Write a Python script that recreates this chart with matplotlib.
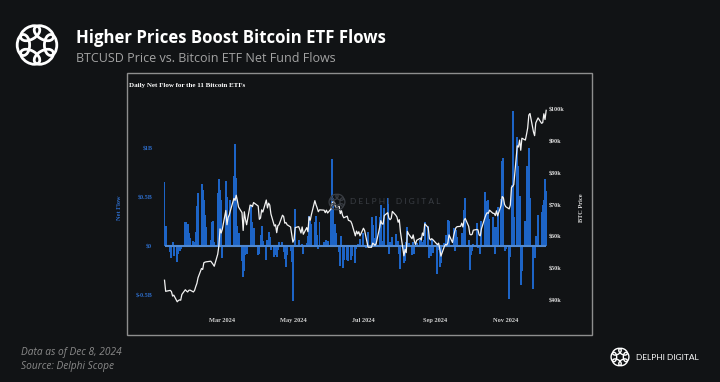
import numpy as np
import pandas as pd
import matplotlib
matplotlib.use("Agg")
import matplotlib.pyplot as plt
import matplotlib.dates as mdates
from matplotlib.patches import Rectangle, Ellipse

### Daten
# Handelstage 11. Jan - 6. Dez 2024 (US-Feiertage raus)
holidays = ["2024-01-15", "2024-02-19", "2024-03-29", "2024-05-27",
            "2024-06-19", "2024-07-04", "2024-09-02", "2024-11-28"]
dates = pd.bdate_range("2024-01-11", "2024-12-06").drop(pd.to_datetime(holidays))

# Daily net flow, alle 11 ETFs (US$m), eine Zeile pro Woche
net_flow = [
    655, 203,
    -60, -120, 40, -100,
    -160, -80, -50, -30, 15,
    250, 240, 225, 130, 80,
    55, 45, 145, 405, 540,
    630, 570, 470, 320, 190,
    60, 245, 255, 40,
    540, 680, 570, 470, -120,
    660, 500, 300, 230, 470,
    710, 1045, 690, 200, 135,
    -150, -320, -260, -95, -85,
    15, 420, 245, 180,
    -90, -85, 115, 200, 50,
    -140, 60, 140, 90, -40,
    -110, -90, -110, -40, 40,
    40, -60, -130, -210, -90,
    -50, -160, -565, 10, 380,
    60, 10, -15, 20, -85,
    30, 100, 305, 255, 220,
    240, 305, 110, -30, 250,
    45, 30, 60, 50,
    380, 887, 490, 220, 130,
    -65, -200, 100, -225, -140,
    -145, -150, -140, -105,
    -175, -30, 20, 12, 75,
    130, -15, -20, 145,
    295, 215, 80, 75, 310,
    300, 420, 55, 20, 385,
    485, -80, 45, 30, 90,
    125, 20, 50, -80, -235,
    -170, -150, 45, 195, 30,
    -90, 40, -80, 10, 35,
    60, 90, 40, 65, 250,
    200, -125, -105, 70, -70,
    -290, -40, -210, -170,
    30, 115, 40, 265, 255,
    15, 185, -50, 160, 95,
    5, 135, 105, 365, 495,
    60, -240, -90, -55, 25,
    235, -20, -5, -80, 255,
    555, 370, 460, 470, 275,
    295, 190, -80, 190, 400,
    480, 870, 895, -55, -30,
    -540, -115, 620, 1375, 295,
    1115, 815, 510, -400, -250,
    255, 815, 775, 1000, 490,
    -440, -120, 105, 320,
    350, 420, 470, 680, 560,
]

# BTCUSD Schlusskurs ($k)
btc_price = [
    46.3, 42.8,
    43.1, 42.7, 41.3, 41.6,
    39.5, 39.9, 40.1, 40.0, 41.8,
    43.3, 42.9, 42.6, 43.1, 43.2,
    42.6, 43.1, 44.3, 45.3, 47.1,
    50.0, 49.7, 51.8, 52.0, 52.1,
    52.3, 51.8, 51.3, 50.7,
    54.5, 57.1, 62.5, 61.2, 62.4,
    68.3, 63.8, 66.1, 66.9, 68.3,
    72.1, 71.5, 73.1, 71.4, 69.4,
    67.6, 62.0, 67.9, 65.5, 63.8,
    70.0, 69.9, 69.5, 70.8,
    69.7, 65.5, 65.9, 68.5, 67.8,
    71.6, 69.1, 70.6, 70.0, 67.2,
    63.4, 63.8, 61.3, 63.5, 63.8,
    66.8, 66.4, 64.3, 64.5, 63.8,
    63.1, 60.6, 58.3, 59.1, 62.9,
    63.2, 62.3, 61.2, 63.1, 60.8,
    62.9, 61.6, 66.3, 65.2, 67.0,
    71.4, 70.1, 69.1, 67.9, 68.5,
    68.4, 67.6, 68.4, 67.5,
    68.8, 70.6, 71.1, 70.8, 69.3,
    69.6, 67.3, 68.2, 66.7, 66.0,
    66.5, 65.2, 64.9, 64.1,
    60.3, 61.8, 60.9, 61.6, 60.3,
    62.7, 62.0, 60.2, 56.7,
    56.7, 58.0, 57.7, 57.3, 57.9,
    62.9, 65.1, 64.1, 64.0, 66.7,
    67.6, 65.9, 65.4, 65.8, 68.0,
    66.8, 66.2, 64.6, 65.4, 61.5,
    54.0, 56.0, 55.0, 61.7, 60.9,
    59.4, 60.6, 58.7, 57.6, 58.9,
    59.5, 59.0, 61.2, 60.4, 64.1,
    62.9, 59.5, 59.0, 59.4, 59.1,
    57.5, 58.0, 56.2, 53.9,
    57.0, 57.6, 57.4, 58.1, 60.6,
    58.2, 60.3, 61.8, 62.9, 63.2,
    63.3, 64.3, 63.1, 65.2, 65.8,
    63.3, 60.8, 60.6, 60.8, 62.1,
    62.3, 62.2, 60.6, 60.3, 62.5,
    66.0, 67.0, 67.6, 67.4, 68.4,
    67.4, 67.4, 66.7, 68.2, 66.6,
    69.9, 72.7, 72.3, 70.2, 69.5,
    68.8, 70.0, 75.6, 75.9, 76.5,
    88.7, 88.3, 90.5, 87.3, 91.1,
    90.5, 92.3, 94.3, 98.4, 98.9,
    93.1, 91.9, 95.9, 97.5,
    95.8, 96.0, 98.8, 97.0, 99.9,
]

flow_ticks = [-0.5, 0, 0.5, 1]
flow_labels = ["$-0.5B", "$0", "$0.5B", "$1B"]
price_ticks = [40, 50, 60, 70, 80, 90, 100]
price_labels = ["$40k", "$50k", "$60k", "$70k", "$80k", "$90k", "$100k"]

title = "Higher Prices Boost Bitcoin ETF Flows"
subtitle = "BTCUSD Price vs. Bitcoin ETF Net Fund Flows"
panel_title = "Daily Net Flow for the 11 Bitcoin ETFs"

assert len(net_flow) == len(dates) == len(btc_price)

### Farben
bg = "#111315"
blue = "#1d64c6"
tick_blue = "#2d6cc8"
serif = "Liberation Serif"

W, H = 720, 382
fig = plt.figure(figsize=(W / 100, H / 100), dpi=100, facecolor=bg)

# Hauptachse (Pixel: x 160..547, y 100..315)
ax = fig.add_axes([160 / W, 1 - 315 / H, 387 / W, 215 / H])
ax.set_facecolor("none")
flow_b = np.array(net_flow) / 1000.0
ax.bar(dates, flow_b, width=1.7, color=blue, linewidth=0, zorder=2)
ax.hlines(0, dates[0], dates[-1], color="#5089d2", lw=1.5, zorder=3)

ax.set_xlim(pd.Timestamp("2024-01-07 02:24"), pd.Timestamp("2024-12-06 17:00"))
ax.set_ylim(-0.704, 1.49)
ax.set_yticks(flow_ticks)
ax.set_yticklabels(flow_labels)
ax.xaxis.set_major_locator(mdates.MonthLocator(bymonth=[1, 3, 5, 7, 9, 11]))
ax.xaxis.set_major_formatter(mdates.DateFormatter("%b %Y"))
ax.tick_params(axis="x", length=0, pad=2.5, labelsize=4.6, labelcolor="#cfcfcf")
ax.tick_params(axis="y", length=0, pad=5.5, labelsize=4.4, labelcolor=tick_blue)
for lab in ax.get_xticklabels() + ax.get_yticklabels():
    lab.set_fontfamily(serif)
    lab.set_fontweight("bold")
ax.set_ylabel("Net Flow", color=tick_blue, fontsize=4.6, fontfamily=serif,
              fontweight="bold", labelpad=10)
for s in ax.spines.values():
    s.set_visible(False)

ax2 = ax.twinx()
ax2.plot(dates, btc_price, color="#f2f2f2", lw=0.9, zorder=4)
ax2.set_ylim(35.33, 103.15)
ax2.set_yticks(price_ticks)
ax2.set_yticklabels(price_labels)
ax2.tick_params(axis="y", length=0, pad=1.5, labelsize=4.4, labelcolor="#dcdcdc")
for lab in ax2.get_yticklabels():
    lab.set_fontfamily(serif)
    lab.set_fontweight("bold")
ax2.set_ylabel("BTC Price", color="#dcdcdc", fontsize=4.6, fontfamily=serif,
               fontweight="bold", labelpad=10)
for s in ax2.spines.values():
    s.set_visible(False)

# Deko-Ebene in Pixelkoordinaten
deco = fig.add_axes([0, 0, 1, 1])
deco.set_xlim(0, W)
deco.set_ylim(H, 0)
deco.axis("off")
deco.patch.set_visible(False)


def delphi_logo(cx, cy, r, lw, color="white", alpha=1.0):
    # Ring aus ineinandergreifenden Schlaufen
    for a in range(0, 360, 60):
        t = np.deg2rad(a)
        deco.add_patch(Ellipse((cx + 0.68 * r * np.cos(t), cy + 0.68 * r * np.sin(t)),
                               0.62 * r, 1.05 * r, angle=a, fill=False,
                               ec=color, lw=lw, alpha=alpha))


delphi_logo(37, 45, 20, 2.0)
deco.text(76, 43, title, color="white", fontsize=12.1, fontweight="bold",
          family="Open Sans", va="baseline")
deco.text(76, 62, subtitle, color="#a3a3a3", fontsize=9.0,
          family="Open Sans", va="baseline")

# Panel
deco.add_patch(Rectangle((127, 73), 465, 262, fill=False, ec="#8e8e8e", lw=1.0))
deco.text(129, 86, panel_title, color="white", fontsize=5.0, fontweight="bold",
          family=serif, va="center")

# Wasserzeichen
delphi_logo(337, 202, 8, 0.9, color="#3a3e44")
deco.text(350, 202, "D E L P H I   D I G I T A L", color="#3a3e44", fontsize=6.0,
          family="Lato", va="center")

# Fusszeile
deco.text(21, 352, "Data as of Dec 8, 2024", color="#8a8a8a", fontsize=7.3,
          style="italic", family="Open Sans", va="center")
deco.text(21, 366, "Source: Delphi Scope", color="#8a8a8a", fontsize=7.3,
          style="italic", family="Open Sans", va="center")
delphi_logo(620, 357, 9, 1.0)
deco.text(636, 357, "DELPHI DIGITAL", color="white", fontsize=6.0,
          family="Lato", va="center")

fig.savefig("out.png", dpi=100, facecolor=bg)
